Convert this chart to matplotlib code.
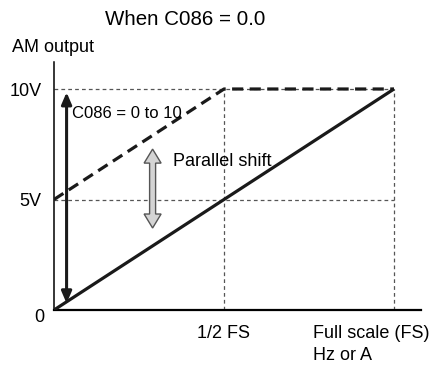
import matplotlib.pyplot as plt
import numpy as np
from matplotlib.patches import Polygon

plt.rcParams["font.family"] = ["Liberation Sans", "DejaVu Sans"]

# full-scale fraction vs. AM output voltage
fs_frac = [0.0, 1.0]
out_default = [0.0, 10.0]  # C086 = 0.0
fs_shift = [0.0, 0.5, 1.0]
out_shift = [5.0, 10.0, 10.0]  # shifted by C086

y_ticks = [5, 10]
y_tick_labels = ["5V", "10V"]
x_ticks = [0.5]
x_tick_labels = ["1/2 FS"]

range_arrow_x = 0.037
range_arrow_y = (0.3, 9.85)
shift_arrow_x = 0.29
shift_arrow_y = (3.71, 7.28)


def double_arrow(ax, x, y0, y1, shaft_px=6, head_w_px=17, head_len_px=14, **kw):
    # polygon built in pixel space, converted back to data
    fig = ax.figure
    fig.canvas.draw()
    px = ax.transData.transform([(x, y0), (x, y1)])
    cx = px[0, 0]
    b, t = px[0, 1], px[1, 1]
    sw, hw = shaft_px / 2, head_w_px / 2
    verts = [
        (cx, t), (cx + hw, t - head_len_px), (cx + sw, t - head_len_px),
        (cx + sw, b + head_len_px), (cx + hw, b + head_len_px), (cx, b),
        (cx - hw, b + head_len_px), (cx - sw, b + head_len_px),
        (cx - sw, t - head_len_px), (cx - hw, t - head_len_px),
    ]
    verts = ax.transData.inverted().transform(verts)
    ax.add_patch(Polygon(verts, closed=True, **kw))


W, H = 435, 369
fig = plt.figure(figsize=(W / 100, H / 100), dpi=100)
ax = fig.add_axes([54 / W, (H - 310) / H, (421 - 54) / W, (310 - 62) / H])
ax.set_xlim(0, 367 / 340)
ax.set_ylim(0, 248 / 22.1)

for s in ["top", "right"]:
    ax.spines[s].set_visible(False)
ax.spines["left"].set_linewidth(1.1)
ax.spines["bottom"].set_linewidth(1.6)

ax.set_yticks(y_ticks)
ax.set_yticklabels(y_tick_labels, fontsize=13)
ax.set_xticks(x_ticks)
ax.set_xticklabels(x_tick_labels, fontsize=13)
ax.tick_params(axis="y", length=0, pad=9)
ax.tick_params(axis="x", length=0, pad=11)

# guide lines
grid_kw = dict(color="#555555", lw=0.9, ls=(0, (3, 2.5)), zorder=1)
for yv in y_ticks:
    ax.plot([0, fs_frac[-1]], [yv, yv], **grid_kw)
ax.plot([x_ticks[0], x_ticks[0]], [0, out_shift[-1]], **grid_kw)
ax.plot([fs_frac[-1], fs_frac[-1]], [0, out_shift[-1]], **grid_kw)

ax.plot(fs_frac, out_default, color="#1a1a1a", lw=2.3, solid_capstyle="butt", zorder=3)
ax.plot(fs_shift, out_shift, color="#1a1a1a", lw=2.3, ls=(0, (3.5, 2.0)), zorder=3)

ax.annotate(
    "", xy=(range_arrow_x, range_arrow_y[1]), xytext=(range_arrow_x, range_arrow_y[0]),
    arrowprops=dict(arrowstyle="<|-|>,head_length=0.7,head_width=0.3",
                    color="#1a1a1a", lw=2.2, shrinkA=0, shrinkB=0),
    zorder=4,
)
double_arrow(ax, shift_arrow_x, *shift_arrow_y, facecolor="#d4d4d4",
             edgecolor="#555555", lw=1.0, zorder=4)

ax.text(0.053, 8.91, "C086 = 0 to 10", fontsize=12, va="center", ha="left")
ax.text(0.349, 6.71, "Parallel shift", fontsize=13, va="center", ha="left")

fig.text(184.7 / W, 1 - 19.7 / H, "When C086 = 0.0", fontsize=14.8, ha="center", va="center")
fig.text(12 / W, 1 - 47 / H, "AM output", fontsize=13, ha="left", va="center")
fig.text(39 / W, 1 - 317 / H, "0", fontsize=13, ha="center", va="center")
fig.text(313 / W, 1 - 333 / H, "Full scale (FS)", fontsize=13, ha="left", va="center")
fig.text(313 / W, 1 - 355 / H, "Hz or A", fontsize=13, ha="left", va="center")

fig.savefig("out.png", dpi=100)
